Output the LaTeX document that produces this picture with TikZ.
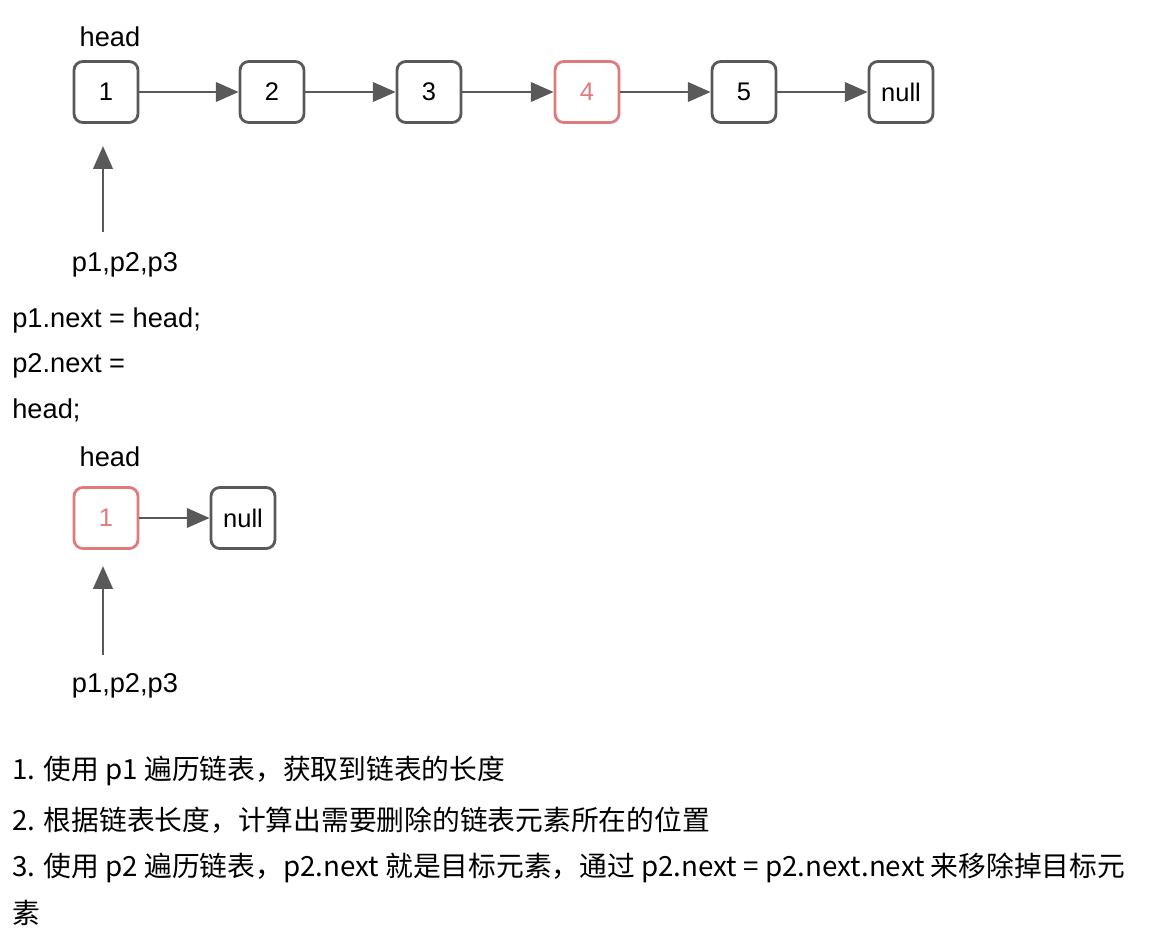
\documentclass[tikz,border=0pt]{standalone}
\usepackage{fontspec}
\setmainfont{Liberation Sans}
\newfontfamily\cjk{Noto Sans CJK SC}
\usetikzlibrary{positioning, arrows.meta}
\definecolor{linegray}{HTML}{595959}
\definecolor{hired}{HTML}{E07B7B}
\tikzset{
  box/.style={draw=linegray, line width=1.6pt, rounded corners=5pt,
    minimum width=1.28cm, minimum height=1.22cm, inner sep=0pt,
    font=\fontsize{14.5}{17}\selectfont, text=black},
  redbox/.style={box, draw=hired, text=hired},
  link/.style={draw=linegray, line width=1.7pt, -{Triangle[length=13pt,width=11pt]}},
  lbl/.style={font=\fontsize{15.5}{18}\selectfont, inner sep=0pt},
  txt/.style={font=\fontsize{15.5}{18}\selectfont, anchor=west, inner sep=0pt},
  ctxt/.style={font=\fontsize{15.8}{18}\selectfont\cjk, anchor=west, inner sep=0pt}
}
\begin{document}
\begin{tikzpicture}[x=0.02cm, y=-0.02cm]
  \useasboundingbox (0,0) rectangle (1164,950);
  % first list
  \node[box] (a1) at (106,92) {1};
  \node[box] (a2) at (272,92) {2};
  \node[box] (a3) at (429,92) {3};
  \node[redbox] (a4) at (587,92) {4};
  \node[box] (a5) at (744,92) {5};
  \node[box] (anull) at (901,92) {null};
  \foreach \i/\j in {a1/a2, a2/a3, a3/a4, a4/a5, a5/anull}
    \draw[link] (\i) -- (\j);
  \node[lbl] (head1) at (110,37) {head};
  \node[lbl] (ptr1) at (125,265) {p1,p2,p3};
  \coordinate (p1) at (103,232);
  \draw[link] (p1) -- (103,146);
  % code
  \node[txt] (c1) at (12,320) {p1.next = head;};
  \node[txt] (c2) at (12,366) {p2.next =};
  \node[txt] (c3) at (12,410) {head;};
  % second list
  \node[redbox] (b1) at (106,518) {1};
  \node[box] (bnull) at (243,518) {null};
  \draw[link] (b1) -- (bnull);
  \node[lbl] (head2) at (110,457) {head};
  \node[lbl] (ptr2) at (125,686) {p1,p2,p3};
  \coordinate (p2) at (103,655);
  \draw[link] (p2) -- (103,566);
  % steps
  \node[ctxt] (s1) at (12,771) {1. 使用 p1 遍历链表，获取到链表的长度};
  \node[ctxt] (s2) at (12,820) {2. 根据链表长度，计算出需要删除的链表元素所在的位置};
  \node[ctxt] (s3) at (12,868) {3. 使用 p2 遍历链表，p2.next 就是目标元素，通过 p2.next = p2.next.next 来移除掉目标元};
  \node[ctxt] (s4) at (12,913) {素};
\end{tikzpicture}
\end{document}
